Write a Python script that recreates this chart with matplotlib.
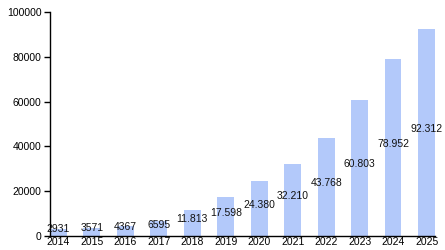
import matplotlib
matplotlib.use("Agg")
import matplotlib.pyplot as plt

years = ["2014", "2015", "2016", "2017", "2018", "2019",
         "2020", "2021", "2022", "2023", "2024", "2025"]
values = [2931, 3571, 4367, 6595, 11813, 17598,
          24380, 32210, 43768, 60803, 78952, 92312]

plt.rcParams["font.family"] = ["Liberation Sans", "DejaVu Sans"]

fig = plt.figure(figsize=(4.45, 2.5), dpi=100)
ax = fig.add_axes([0.1124, 0.056, 0.865, 0.896])

x = list(range(len(years)))
ax.bar(x, values, width=0.5, color="#b3c9fa", edgecolor="none")

for xi, v in zip(x, values):
    if v >= 10000:
        label = f"{v:,}".replace(",", ".")
    else:
        label = str(v)
    ax.annotate(label, (xi, v / 2), xytext=(0, -1), textcoords="offset points",
                ha="center", va="bottom", fontsize=7.5, color="#111111")

ax.set_xlim(-0.25, 11.25)
ax.set_ylim(0, 100000)
ax.set_yticks([0, 20000, 40000, 60000, 80000, 100000])
ax.set_xticks(x)
ax.set_xticklabels(years)

for s in ["top", "right"]:
    ax.spines[s].set_visible(False)
ax.spines["left"].set_linewidth(1)
ax.spines["bottom"].set_linewidth(1)
ax.tick_params(axis="y", length=4, width=1, labelsize=7.5, pad=2)
ax.tick_params(axis="x", length=0, labelsize=7.5, pad=1)

fig.savefig("out.png", dpi=100)
